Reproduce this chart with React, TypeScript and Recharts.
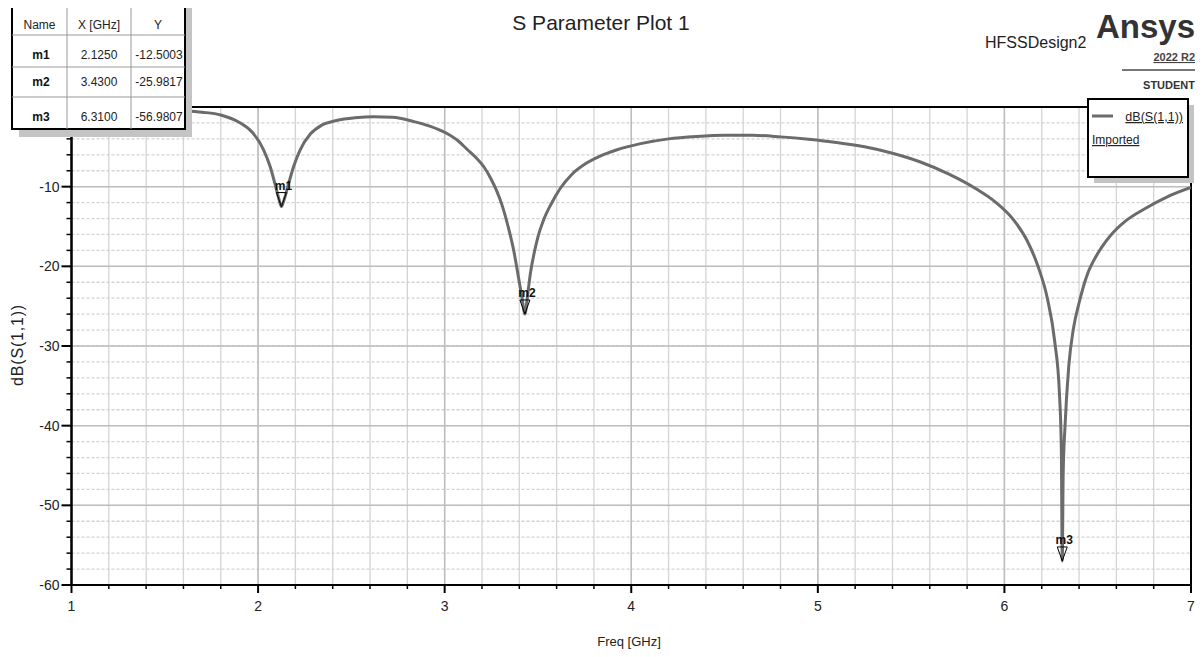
import React from 'react';
import { ComposedChart, Line, Scatter, XAxis, YAxis, CartesianGrid, ReferenceArea } from 'recharts';

const freqGHz = [
  1.0, 1.2, 1.4, 1.6, 1.7, 1.8, 1.9, 1.97, 2.03, 2.065, 2.09, 2.11, 2.125, 2.14, 2.165, 2.19, 2.225, 2.28, 2.34, 2.42,
  2.52, 2.62, 2.72, 2.83, 2.92, 3.01, 3.07, 3.12, 3.17, 3.21, 3.25, 3.28, 3.31, 3.34, 3.37, 3.395, 3.415, 3.43, 3.445, 3.46,
  3.48, 3.5, 3.53, 3.57, 3.62, 3.68, 3.75, 3.83, 3.92, 4.05, 4.2, 4.35, 4.5, 4.65, 4.8, 4.95, 5.1, 5.25, 5.4, 5.55,
  5.7, 5.85, 5.95, 6.05, 6.12, 6.18, 6.23, 6.27, 6.295, 6.305, 6.31, 6.315, 6.325, 6.345, 6.37, 6.4, 6.44, 6.5, 6.57, 6.65,
  6.75, 6.87, 7.0,
];
const s11dB = [
  -0.1, -0.15, -0.25, -0.45, -0.65, -1.0, -1.95, -3.2, -5.4, -7.5, -9.6, -11.4, -12.5, -11.6, -9.5, -7.5, -5.4, -3.4, -2.3, -1.7,
  -1.35, -1.22, -1.3, -1.8, -2.4, -3.3, -4.2, -5.3, -6.4, -7.5, -9.1, -10.6, -12.5, -15.0, -18.0, -21.3, -24.0, -25.98, -23.5, -20.8,
  -18.3, -16.3, -14.2, -12.2, -10.2, -8.5, -7.2, -6.2, -5.4, -4.6, -4.0, -3.7, -3.55, -3.55, -3.75, -4.05, -4.45, -5.0, -5.8, -6.9,
  -8.4, -10.3, -11.9, -14.2, -16.7, -20.0, -24.0, -29.5, -36.0, -43.0, -56.98, -46.0, -40.0, -32.5, -27.8, -24.6, -21.3, -18.4, -16.1, -14.3,
  -12.8, -11.3, -10.1,
];

const markerNames = ['m1', 'm2', 'm3'];
const markerFreq = [2.125, 3.43, 6.31];
const markerDb = [-12.5003, -25.9817, -56.9807];
const markerFreqText = ['2.1250', '3.4300', '6.3100'];
const markerDbText = ['-12.5003', '-25.9817', '-56.9807'];

const xMajorTicks = [1, 2, 3, 4, 5, 6, 7];
const xMinorTicks = [
  1, 1.2, 1.4, 1.6, 1.8, 2, 2.2, 2.4, 2.6, 2.8, 3, 3.2, 3.4, 3.6, 3.8, 4, 4.2, 4.4, 4.6, 4.8,
  5, 5.2, 5.4, 5.6, 5.8, 6, 6.2, 6.4, 6.6, 6.8, 7,
];
const yMajorTicks = [-60, -50, -40, -30, -20, -10, 0];
const yMinorTicks = [
  -60, -58, -56, -54, -52, -50, -48, -46, -44, -42, -40, -38, -36, -34, -32, -30, -28, -26, -24, -22,
  -20, -18, -16, -14, -12, -10, -8, -6, -4, -2, 0,
];

const curveData = freqGHz.map((f, i) => ({ f, db: s11dB[i] }));
const markerData = markerNames.map((n, i) => ({ f: markerFreq[i], db: markerDb[i], name: n }));

const FONT = "'Liberation Sans', Arial, sans-serif";
const CURVE = '#6b6b6b';

const isMajor = (v: number, step: number) => Math.abs(v / step - Math.round(v / step)) < 1e-6;

const XTick = (props: any) => {
  const { x, y, payload } = props;
  const v = payload.value as number;
  const major = isMajor(v, 1);
  return (
    <g>
      <line x1={x} y1={y} x2={x} y2={y + (major ? 8 : 4)} stroke="#000" strokeWidth={major ? 2 : 1.5} />
      {major && (
        <text x={x} y={y + 26} textAnchor="middle" fontSize={14} fill="#222" fontFamily={FONT}>
          {v}
        </text>
      )}
    </g>
  );
};

const YTick = (props: any) => {
  const { x, y, payload } = props;
  const v = payload.value as number;
  const major = isMajor(v, 10);
  return (
    <g>
      <line x1={x - (major ? 10 : 5)} y1={y} x2={x} y2={y} stroke="#000" strokeWidth={major ? 2 : 1.5} />
      {major && (
        <text x={x - 12} y={y + 5} textAnchor="end" fontSize={14} fill="#222" fontFamily={FONT}>
          {v}
        </text>
      )}
    </g>
  );
};

const MarkerShape = (props: any) => {
  const { cx, cy, payload } = props;
  return (
    <g>
      <path d={`M${cx - 5},${cy - 14} L${cx + 5},${cy - 14} L${cx},${cy} Z`} fill="none" stroke="#000" strokeWidth={1} />
      <text x={cx + 2} y={cy - 17} textAnchor="middle" fontSize={12} fontWeight="bold" fill="#111" fontFamily={FONT}>
        {payload.name}
      </text>
    </g>
  );
};

const colX = [12, 67, 131, 185];
const rowY = [-2, 35, 67, 97, 129];
const rowTextY = [29, 59, 86, 121];

export default function App() {
  return (
    <div style={{ position: 'relative', width: 1195, height: 649, fontFamily: FONT }}>
      <ComposedChart
        width={1195}
        height={649}
        data={curveData}
        margin={{ top: 99, right: 12, bottom: 32, left: 3.5 }}
      >
        <CartesianGrid
          horizontal={false}
          verticalValues={xMinorTicks}
          stroke="#d4d4d4"
          strokeWidth={1.3}
        />
        <CartesianGrid
          vertical={false}
          horizontalValues={yMinorTicks}
          stroke="#d2d2d2"
          strokeDasharray="3 2"
          strokeWidth={1.3}
        />
        <CartesianGrid verticalValues={xMajorTicks} horizontalValues={yMajorTicks} stroke="#bdbdbd" strokeWidth={1.5} />
        <XAxis
          type="number"
          dataKey="f"
          domain={[1, 7]}
          ticks={xMinorTicks}
          interval={0}
          height={40}
          tickSize={0}
          tickMargin={0}
          tickLine={false}
          axisLine={{ stroke: '#000', strokeWidth: 2 }}
          tick={<XTick />}
          allowDataOverflow
        />
        <YAxis
          type="number"
          domain={[-60, 0]}
          ticks={yMinorTicks}
          interval={0}
          width={60}
          tickSize={0}
          tickMargin={0}
          tickLine={false}
          axisLine={{ stroke: '#000', strokeWidth: 2 }}
          tick={<YTick />}
          allowDataOverflow
        />
        <ReferenceArea x1={1} x2={7} y1={-60} y2={0} fill="none" stroke="#000" strokeWidth={2} ifOverflow="visible" />
        <Line
          type="monotone"
          dataKey="db"
          stroke={CURVE}
          strokeWidth={3}
          dot={false}
          isAnimationActive={false}
        />
        <Scatter data={markerData} dataKey="db" shape={<MarkerShape />} isAnimationActive={false} />
      </ComposedChart>

      <svg
        width={1203}
        height={657}
        style={{ position: 'absolute', left: -8, top: -8, overflow: 'visible', pointerEvents: 'none' }}
        fontFamily={FONT}
      >
        <text x={601} y={30} textAnchor="middle" fontSize={21} fill="#222">S Parameter Plot 1</text>
        <text x={985} y={48} fontSize={16} fill="#222">HFSSDesign2</text>
        <text x={1195} y={38} textAnchor="end" fontSize={33} fontWeight="bold" fill="#333">Ansys</text>
        <text x={1195} y={61} textAnchor="end" fontSize={11} fontWeight="bold" fill="#444" textDecoration="underline">2022 R2</text>
        <line x1={1122} y1={70} x2={1196} y2={70} stroke="#777" strokeWidth={2} />
        <text x={1195} y={89} textAnchor="end" fontSize={11} fontWeight="bold" fill="#333">STUDENT</text>

        <text x={0} y={0} transform="translate(23,345) rotate(-90)" textAnchor="middle" fontSize={16} letterSpacing={0.8} fill="#222">dB(S(1,1))</text>
        <text x={629} y={646} textAnchor="middle" fontSize={13} fill="#222">Freq [GHz]</text>

        {/* marker table */}
        <rect x={19} y={6} width={173} height={131} fill="#c4c4c4" />
        <rect x={colX[0]} y={rowY[0]} width={colX[3] - colX[0]} height={rowY[4] - rowY[0]} fill="#fff" stroke="#000" strokeWidth={2} />
        {[colX[1], colX[2]].map((cx) => (
          <line key={'c' + cx} x1={cx} y1={0} x2={cx} y2={rowY[4]} stroke="#999" strokeWidth={1} />
        ))}
        {[rowY[1], rowY[2], rowY[3]].map((ry) => (
          <line key={'r' + ry} x1={colX[0]} y1={ry} x2={colX[3]} y2={ry} stroke="#999" strokeWidth={1} />
        ))}
        <text x={39.5} y={rowTextY[0]} textAnchor="middle" fontSize={12} fill="#222">Name</text>
        <text x={99} y={rowTextY[0]} textAnchor="middle" fontSize={12} fill="#222">X [GHz]</text>
        <text x={158} y={rowTextY[0]} textAnchor="middle" fontSize={12} fill="#222">Y</text>
        {markerNames.map((n, i) => (
          <g key={n}>
            <text x={41} y={rowTextY[i + 1]} textAnchor="middle" fontSize={12} fontWeight="bold" fill="#111">{n}</text>
            <text x={99} y={rowTextY[i + 1]} textAnchor="middle" fontSize={12} fill="#222">{markerFreqText[i]}</text>
            <text x={159} y={rowTextY[i + 1]} textAnchor="middle" fontSize={12} fill="#222">{markerDbText[i]}</text>
          </g>
        ))}

        {/* legend */}
        <rect x={1094} y={105} width={100} height={78} fill="#c4c4c4" />
        <rect x={1088} y={99} width={100} height={78} fill="#fff" stroke="#000" strokeWidth={2} />
        <line x1={1092} y1={116} x2={1113} y2={116} stroke={CURVE} strokeWidth={3} />
        <text x={1183} y={121} textAnchor="end" fontSize={12.5} fill="#222" textDecoration="underline">dB(S(1,1))</text>
        <text x={1092} y={144} fontSize={12} fill="#222" textDecoration="underline">Imported</text>
      </svg>
    </div>
  );
}
